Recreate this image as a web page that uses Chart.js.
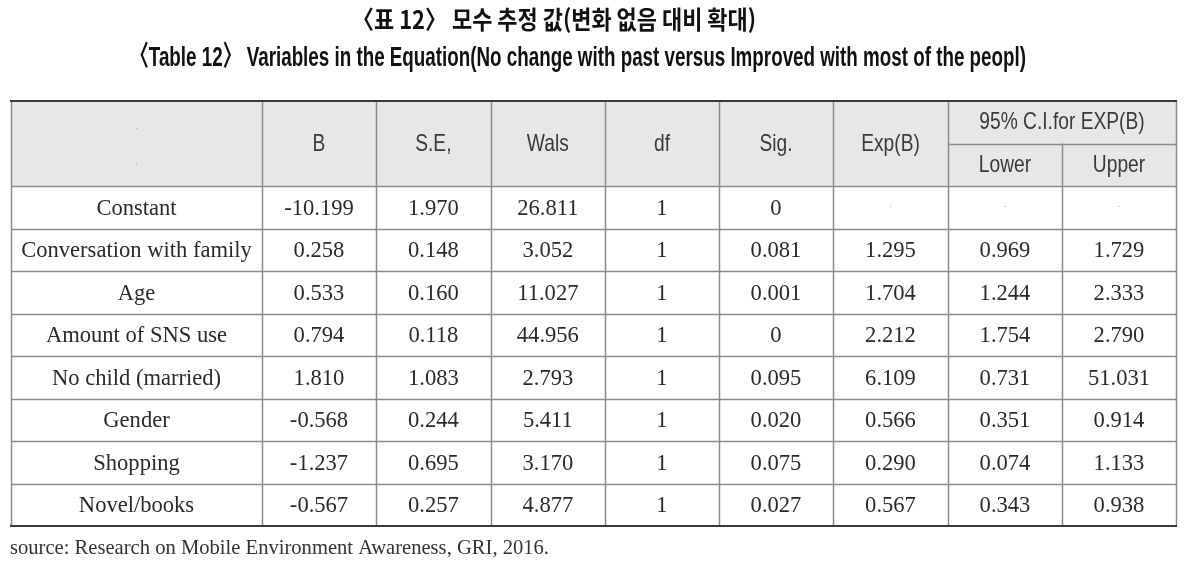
<!DOCTYPE html>
<html lang="ko">
<head>
<meta charset="UTF-8">
<title>Table 12</title>
<script src="https://cdn.jsdelivr.net/npm/chart.js@4.4.0/dist/chart.umd.min.js"></script>
<style>
    body { margin: 0; background: #fff; }
    #wrap { width: 1196px; height: 563px; }
</style>
</head>
<body>
<div id="wrap"><canvas id="tbl" width="1196" height="563"></canvas></div>
<script>
// table data
const titleKo = '〈표 12〉 모수 추정 값(변화 없음 대비 확대)';
const titleEn = '〈Table 12〉 Variables in the Equation(No change with past versus Improved with most of the peopl)';
const sourceNote = 'source: Research on Mobile Environment Awareness, GRI, 2016.';

const headers = ['', 'B', 'S.E,', 'Wals', 'df', 'Sig.', 'Exp(B)'];
const ciHeader = '95% C.I.for EXP(B)';
const ciSub = ['Lower', 'Upper'];

const variables = ['Constant', 'Conversation with family', 'Age', 'Amount of SNS use',
    'No child (married)', 'Gender', 'Shopping', 'Novel/books'];
const B     = [-10.199, 0.258, 0.533, 0.794, 1.810, -0.568, -1.237, -0.567];
const SE    = [1.970, 0.148, 0.160, 0.118, 1.083, 0.244, 0.695, 0.257];
const Wals  = [26.811, 3.052, 11.027, 44.956, 2.793, 5.411, 3.170, 4.877];
const df    = [1, 1, 1, 1, 1, 1, 1, 1];
const Sig   = [0, 0.081, 0.001, 0, 0.095, 0.020, 0.075, 0.027];
const ExpB  = [null, 1.295, 1.704, 2.212, 6.109, 0.566, 0.290, 0.567];
const Lower = [null, 0.969, 1.244, 1.754, 0.731, 0.351, 0.074, 0.343];
const Upper = [null, 1.729, 2.333, 2.790, 51.031, 0.914, 1.133, 0.938];

// layout (column widths in px-like units, header takes 2 row units)
const colWidths = [251, 114, 114.7, 114.3, 114, 114, 115, 114, 114];
const headRows = 2;
const edges = [0];
colWidths.forEach(w => edges.push(edges[edges.length - 1] + w));
const colCenter = i => (edges[i] + edges[i + 1]) / 2;

const serif = '"Liberation Serif", "DejaVu Serif", serif';
const sans = '"Liberation Sans", Arial, sans-serif';
const grey = '#8c8c8c';

function fmt(v, i) {
    if (v === null) return '.';
    if (i === 4) return String(v);           // df
    if (v === 0) return '0';
    return v.toFixed(3);
}

const columns = [variables, B, SE, Wals, df, Sig, ExpB, Lower, Upper];
const datasets = columns.map((col, c) => ({
    label: c === 0 ? 'Variable' : (headers[c] || ciSub[c - 7]),
    data: col.map((v, r) => ({ x: colCenter(c), y: headRows + r + 0.5 })),
    texts: col.map(v => c === 0 ? v : fmt(v, c)),
    pointRadius: 0
}));

function squeezeText(ctx, text, x, y, font, color, sx, align) {
    ctx.save();
    ctx.font = font;
    ctx.fillStyle = color;
    ctx.textAlign = align || 'center';
    ctx.textBaseline = 'middle';
    ctx.translate(x, y);
    ctx.scale(sx, 1);
    ctx.fillText(text, 0, 0);
    ctx.restore();
}

function fitText(ctx, text, x, y, font, color, width, align) {
    ctx.save();
    ctx.font = font;
    const sx = width / ctx.measureText(text).width;
    ctx.restore();
    squeezeText(ctx, text, x, y, font, color, sx, align);
}

const tablePlugin = {
    id: 'tablePlugin',
    beforeDatasetsDraw(chart) {
        const { ctx, scales: { x, y } } = chart;
        ctx.save();
        ctx.fillStyle = '#e6e7e8';
        ctx.fillRect(x.getPixelForValue(0), y.getPixelForValue(0),
            x.getPixelForValue(edges[edges.length - 1]) - x.getPixelForValue(0),
            y.getPixelForValue(headRows) - y.getPixelForValue(0));
        ctx.restore();
    },
    afterDatasetsDraw(chart) {
        const { ctx, scales: { x, y } } = chart;
        const nRows = headRows + variables.length;
        const x0 = x.getPixelForValue(0), x1 = x.getPixelForValue(edges[edges.length - 1]);

        ctx.save();
        ctx.strokeStyle = grey;
        ctx.lineWidth = 1.5;
        // vertical lines
        edges.forEach((e, i) => {
            const top = (i === 8) ? y.getPixelForValue(1) : y.getPixelForValue(0);
            ctx.beginPath();
            ctx.moveTo(Math.round(x.getPixelForValue(e)) + 0.5, top);
            ctx.lineTo(Math.round(x.getPixelForValue(e)) + 0.5, y.getPixelForValue(nRows));
            ctx.stroke();
        });
        // horizontal lines
        ctx.beginPath();
        ctx.moveTo(x.getPixelForValue(edges[7]), Math.round(y.getPixelForValue(1)) + 0.5);
        ctx.lineTo(x1, Math.round(y.getPixelForValue(1)) + 0.5);
        ctx.stroke();
        for (let r = headRows; r < nRows; r++) {
            const py = Math.round(y.getPixelForValue(r)) + 0.5;
            ctx.beginPath();
            ctx.moveTo(x0, py);
            ctx.lineTo(x1, py);
            ctx.stroke();
        }
        ctx.strokeStyle = '#3a3a3a';
        ctx.lineWidth = 2;
        [0, nRows].forEach(r => {
            const py = Math.round(y.getPixelForValue(r));
            ctx.beginPath();
            ctx.moveTo(x0 - 1, py);
            ctx.lineTo(x1 + 1, py);
            ctx.stroke();
        });
        ctx.restore();

        // header text
        const hFont = '24px ' + sans;
        headers.forEach((h, c) => {
            if (!h) return;
            squeezeText(ctx, h, x.getPixelForValue(colCenter(c)), y.getPixelForValue(1) + 1,
                hFont, '#3a3a3a', 0.8);
        });
        squeezeText(ctx, ciHeader, x.getPixelForValue(edges[8]), y.getPixelForValue(0.5),
            hFont, '#3a3a3a', 0.8);
        ciSub.forEach((s, i) => {
            squeezeText(ctx, s, x.getPixelForValue(colCenter(7 + i)), y.getPixelForValue(1.5) + 1,
                hFont, '#3a3a3a', 0.8);
        });
        // little dots in the empty header cell
        squeezeText(ctx, '.', x.getPixelForValue(colCenter(0)), y.getPixelForValue(0.6),
            '10px ' + serif, '#aaa', 1);
        squeezeText(ctx, '.', x.getPixelForValue(colCenter(0)), y.getPixelForValue(1.45),
            '10px ' + serif, '#aaa', 1);

        // cell text, placed at each point from the scales
        chart.data.datasets.forEach((ds, d) => {
            chart.getDatasetMeta(d).data.forEach((pt, i) => {
                const t = ds.texts[i];
                if (t === '.') {
                    squeezeText(ctx, t, pt.x, pt.y - 3, '10px ' + serif, '#aaa', 1);
                } else {
                    squeezeText(ctx, t, pt.x, pt.y + 1, '24px ' + serif, '#2a2a2a', 0.94);
                }
            });
        });

        // titles and source
        fitText(ctx, titleKo, 554, 19, '600 25px "Noto Sans CJK KR", sans-serif', '#111', 404);
        fitText(ctx, titleEn, 578, 58, 'bold 28px ' + sans + ', "Noto Sans CJK KR"', '#111', 896);
        fitText(ctx, sourceNote, 10, 548, '21px ' + serif, '#333', 539, 'left');
    }
};

new Chart(document.getElementById('tbl'), {
    type: 'scatter',
    data: { datasets: datasets },
    options: {
        responsive: false,
        animation: false,
        devicePixelRatio: 1,
        layout: { padding: { left: 11, right: 20, top: 101, bottom: 37 } },
        plugins: { legend: { display: false }, tooltip: { enabled: false }, title: { display: false } },
        scales: {
            x: { type: 'linear', min: 0, max: edges[edges.length - 1], display: false },
            y: { type: 'linear', min: 0, max: headRows + variables.length, reverse: true, display: false }
        }
    },
    plugins: [tablePlugin]
});
</script>
</body>
</html>
